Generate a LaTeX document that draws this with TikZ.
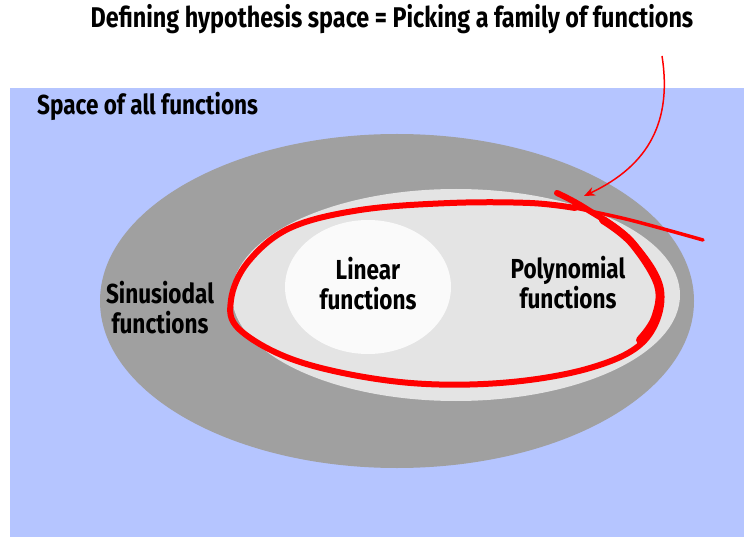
\documentclass[tikz,border=0pt]{standalone}
\usepackage{fontspec}
\setmainfont[FakeStretch=0.82]{Fira Sans}
\usetikzlibrary{arrows.meta, positioning}
\definecolor{spaceblue}{HTML}{B5C5FF}
\definecolor{sinegray}{HTML}{A0A0A0}
\definecolor{polygray}{HTML}{E4E4E4}
\definecolor{linwhite}{HTML}{FAFAFA}
\definecolor{hypred}{HTML}{FF0000}

\begin{document}
\begin{tikzpicture}[
  x=1pt, y=-1pt,
  lbl/.style={font=\fontsize{27.5}{30}\selectfont\bfseries, text=black, align=center, inner sep=0pt},
]
\useasboundingbox (0,0) rectangle (744,537);

% Background
\fill[spaceblue] (10,88) rectangle (744,537);

% Title
\node[lbl, font=\fontsize{28.5}{30}\selectfont\bfseries] (title) at (392,19) {Defining hypothesis space = Picking a family of functions};
\node[lbl, anchor=west] (all) at (37,106) {Space of all functions};

% Nested families
\fill[sinegray] (397,301) ellipse (297 and 167);
\fill[polygray] (456,295) ellipse (224 and 106);
\fill[linwhite] (368,287) ellipse (83 and 67);

\node[lbl] (sine) at (160,308) {Sinusiodal\\functions};
\node[lbl] (lin) at (368,284) {Linear\\functions};
\node[lbl] (poly) at (568,283) {Polynomial\\functions};

% Hand-drawn hypothesis space
\draw[hypred, line width=6pt, line cap=round, line join=round]
  plot[smooth, tension=0.6] coordinates {(557,193) (585,208) (630,240) (661,290) (645,340) (590,368) (500,383) (400,382) (300,362) (240,330) (231,300) (248,262) (290,228) (360,210) (450,203) (530,203) (575,208)};
\draw[hypred, line width=8pt, line cap=round]
  plot[smooth, tension=0.6] coordinates {(603,220) (632,243) (658,285) (655,318) (640,340)};
\draw[hypred, line width=3.5pt, line cap=round]
  plot[smooth, tension=0.6] coordinates {(575,208) (630,220) (703,240)};

% Arrow from title
\coordinate (src) at (662,56);
\coordinate (tip) at (584,196);
\draw[hypred, line width=1.5pt, -{Stealth[length=11pt, width=9pt]}] (src) .. controls (672,120) and (650,165) .. (tip);

\end{tikzpicture}
\end{document}
